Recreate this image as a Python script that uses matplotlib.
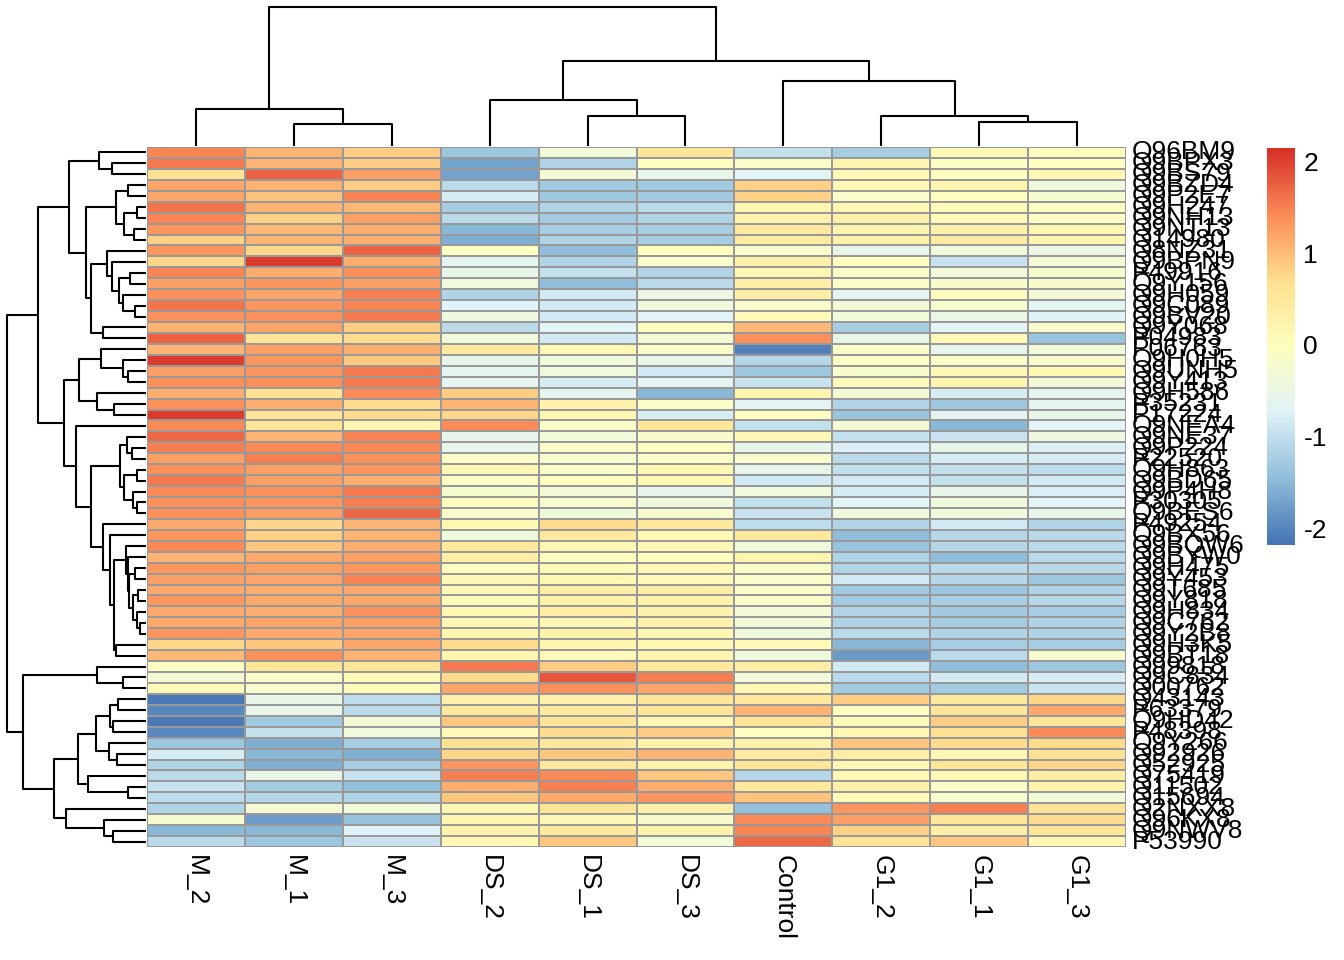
import matplotlib
matplotlib.use("Agg")
import matplotlib.pyplot as plt
import numpy as np
from matplotlib.colors import LinearSegmentedColormap

plt.rcParams['font.family'] = ['Liberation Sans', 'DejaVu Sans']

col_labels = ['M_2', 'M_1', 'M_3', 'DS_2', 'DS_1', 'DS_3', 'Control', 'G1_2', 'G1_1', 'G1_3']

row_labels = [
    'Q96BM9', 'Q9BPX3', 'Q9BS79', 'Q9BZD4', 'Q9P2E7', 'Q9H247', 'Q9NH13', 'Q9NT13',
    'Q14980', 'Q8NZ31', 'Q9BPN9', 'P49916', 'Q9Y156', 'Q9H059', 'Q9C089', 'Q9BV20',
    'Q9Y068', 'P04983', 'P06763', 'Q9H0H5', 'Q9UNH5', 'Q9Y413', 'Q9H586', 'P35231',
    'P17224', 'Q9NEA4', 'Q9NE37', 'Q9P224', 'P22520', 'Q9H863', 'Q9BD65', 'Q9P4H8',
    'P30305', 'Q9BES6', 'P49254', 'Q9BX56', 'Q9BQW6', 'Q9BYW0', 'Q9H475', 'Q9Y453',
    'Q9T685', 'Q9Y818', 'Q9H834', 'Q9C762', 'Q9Y2B8', 'Q9H3K5', 'Q9BT18', 'Q99818',
    'Q9C834', 'Q00762', 'Q43143', 'P63379', 'Q9HD42', 'P48398', 'Q9Y266', 'Q92926',
    'Q52925', 'Q75419', 'Q11502', 'Q15694', 'Q2NXX8', 'Q96KX8', 'Q9NWV8', 'P53990',
]

# z-scores per protein, columns in the order of col_labels
values = [
    [1.5, 1.1, 0.9, -1.3, -0.3, 0.6, -0.95, -1.2, 0.15, 0.05],
    [1.6, 1.1, 0.9, -1.7, -1.15, 0.05, -0.1, 0.25, -0.05, 0.0],
    [0.7, 1.75, 1.3, -1.7, -0.25, -0.55, -0.65, 0.15, 0.05, 0.2],
    [1.25, 1.1, 0.9, -1.05, -1.25, -1.25, 0.85, 0.15, 0.25, -0.35],
    [1.25, 1.0, 1.5, -0.8, -1.3, -1.25, 0.85, -0.1, 0.05, -0.2],
    [1.65, 1.1, 1.05, -1.2, -1.15, -1.05, 0.25, 0.2, 0.1, -0.05],
    [1.5, 0.85, 1.3, -1.05, -1.25, -1.15, 0.3, 0.35, 0.1, -0.05],
    [1.35, 1.05, 1.15, -1.5, -1.2, -1.2, 0.5, 0.25, 0.35, 0.2],
    [0.85, 1.1, 1.15, -1.55, -1.15, -1.2, 0.45, 0.35, 0.45, 0.25],
    [1.35, 0.8, 1.75, -0.05, -1.45, 0.05, -0.15, -0.55, -0.35, -0.45],
    [0.8, 2.05, 1.15, -0.6, -1.15, -0.15, 0.35, 0.05, -0.9, -0.25],
    [1.5, 1.15, 1.4, -0.55, -0.95, -1.15, 0.2, -0.1, -0.3, -0.2],
    [1.3, 1.35, 1.3, -0.35, -1.45, -1.05, 0.4, -0.1, -0.15, -0.15],
    [1.4, 1.25, 1.55, -1.15, -0.85, -0.45, 0.4, -0.6, 0.05, -0.25],
    [1.65, 1.35, 1.5, -0.7, -0.85, -0.35, -0.15, -0.25, -0.2, -0.6],
    [1.4, 1.4, 1.6, -0.4, -0.85, -0.65, 0.1, -0.3, -0.45, -0.7],
    [1.1, 1.25, 0.9, -1.05, -0.65, 0.0, 1.05, -1.2, -0.65, -0.15],
    [1.75, 0.65, 0.75, -0.35, -0.85, -0.25, 1.4, -0.55, 0.1, -1.35],
    [1.1, 1.3, 1.15, 0.5, 0.15, -0.1, -2.0, -0.1, -0.55, -0.3],
    [2.05, 1.35, 0.95, -0.55, -0.35, -0.55, -1.1, -0.05, -0.1, -0.15],
    [1.3, 1.35, 1.6, -0.6, -0.35, -0.85, -1.3, -0.15, 0.15, 0.2],
    [1.4, 1.4, 1.6, -0.6, -0.8, -0.6, -0.9, 0.1, 0.25, -0.25],
    [1.15, 0.7, 1.45, 0.9, -0.6, -1.5, 0.25, -0.25, -0.8, -0.6],
    [1.4, 1.15, 0.75, 1.1, 0.3, -0.1, -0.6, -1.15, -1.3, -0.6],
    [2.05, 0.65, 0.75, 0.8, 0.2, -0.8, 0.0, -1.35, -0.6, -0.55],
    [1.45, 0.65, 0.25, 1.45, -0.1, 0.6, -0.95, -0.25, -1.5, -0.65],
    [1.7, 1.1, 1.5, -0.55, -0.3, -0.15, 0.15, -0.95, -0.9, -0.4],
    [1.55, 1.45, 1.45, -0.55, -0.1, 0.0, -0.55, -0.75, -0.55, -0.75],
    [1.3, 1.55, 1.4, -0.1, -0.2, -0.1, -0.2, -1.05, -0.8, -0.8],
    [1.4, 1.3, 1.35, 0.15, -0.1, 0.15, -0.55, -0.95, -0.95, -1.0],
    [1.6, 1.3, 1.15, -0.05, 0.05, 0.15, -0.85, -0.85, -0.95, -0.85],
    [1.45, 1.4, 1.6, -0.2, -0.25, -0.55, -0.35, -0.8, -0.55, -0.75],
    [1.4, 1.35, 1.55, 0.05, -0.2, -0.35, -0.95, -0.65, -0.35, -0.65],
    [1.4, 1.3, 1.7, -0.15, -0.35, -0.2, -0.9, -0.35, -0.35, -0.55],
    [1.2, 0.8, 1.1, 0.2, 0.75, 0.55, -1.0, -1.15, -0.85, -1.15],
    [1.35, 0.85, 1.1, -0.35, 0.5, 0.15, 0.55, -1.45, -1.1, -1.05],
    [1.45, 0.95, 1.15, 0.55, 0.2, 0.15, -0.35, -1.35, -1.1, -1.05],
    [1.1, 1.2, 1.3, 0.4, 0.05, 0.05, 0.25, -1.15, -1.45, -1.05],
    [1.35, 1.3, 1.35, 0.05, 0.1, 0.15, -0.1, -1.15, -1.05, -1.05],
    [1.3, 1.25, 1.5, 0.15, 0.2, 0.1, -0.1, -0.85, -1.1, -1.3],
    [1.2, 1.15, 1.2, 0.15, 0.4, 0.4, -0.1, -1.25, -1.3, -1.15],
    [1.35, 1.2, 1.2, 0.1, 0.3, 0.3, -0.1, -1.25, -1.2, -1.1],
    [1.2, 1.15, 1.4, 0.2, 0.4, 0.3, -0.25, -1.15, -1.25, -1.2],
    [1.2, 1.25, 1.3, 0.15, 0.2, 0.35, -0.3, -1.15, -1.2, -1.15],
    [1.35, 1.2, 1.25, 0.25, 0.3, 0.2, -0.35, -1.05, -1.15, -1.15],
    [0.8, 0.95, 1.25, 0.75, 0.25, 0.2, 0.1, -1.5, -1.2, -1.2],
    [1.05, 1.4, 1.1, 0.25, 0.1, 0.25, -0.35, -1.8, -1.05, -0.2],
    [-0.05, 0.6, 0.65, 1.6, 0.9, 0.55, 0.4, -0.85, -1.45, -1.3],
    [-0.25, -0.1, 0.1, 0.75, 1.85, 1.55, -0.3, -1.05, -0.85, -0.8],
    [0.1, -0.2, 0.1, 1.25, 1.4, 1.25, 0.15, -1.25, -1.25, -0.9],
    [-2.1, -0.55, -1.0, 0.35, 0.35, 0.6, 0.55, 0.9, 0.55, 0.8],
    [-1.95, -0.55, -1.05, 0.55, 0.5, 0.6, 1.1, 0.05, 0.6, 1.2],
    [-2.1, -1.25, -0.25, 0.95, 0.6, 0.15, 0.65, 0.1, 0.9, 0.6],
    [-1.95, -0.95, -0.35, 0.1, 0.75, 0.9, 0.05, 0.2, 0.7, 1.45],
    [-1.3, -1.55, -1.2, 0.7, 0.5, 0.3, 0.3, 1.0, 0.75, 0.75],
    [-0.8, -1.5, -1.55, 0.8, 0.95, 1.1, 0.45, 0.4, 0.15, 0.7],
    [-1.15, -1.55, -1.2, 1.35, 0.55, 0.3, 0.6, 0.15, 0.6, 0.8],
    [-1.05, -0.55, -0.9, 1.55, 1.45, 0.95, -1.1, 0.15, 0.15, 0.4],
    [-0.9, -1.25, -1.4, 1.15, 1.55, 1.15, 0.55, 0.35, -0.1, 0.3],
    [-1.0, -1.1, -1.15, 0.95, 1.2, 1.35, 1.0, 0.1, -0.2, -0.3],
    [-1.15, -0.25, -0.3, 0.2, 0.65, 0.35, -1.4, 1.35, 1.55, 0.7],
    [-0.2, -1.75, -1.35, 0.25, 0.15, -0.15, 1.45, 1.3, 0.6, 0.75],
    [-1.5, -1.5, -0.7, 0.3, 0.5, 0.3, 1.5, 0.85, 0.4, 0.65],
    [-1.05, -1.3, -0.9, 0.15, 0.95, -0.3, 1.7, 0.65, 0.95, 0.2],
]

# cluster trees: (merge height, left, right), leaves are row / column indices
col_tree = (139.0,
            (36.7, 0, (22.0, 1, 2)),
            (85.0, (46.0, 3, (29.4, 4, 5)),
                   (64.7, 6, (29.4, 7, (23.7, 8, 9)))))

row_tree = (139.3,
    (108.3,
        (77.0,
            (46.7, 0, (34.0, 1, 2)),
            (60.3,
                (30.3, (18.3, 3, 4), (22.0, (9.3, 5, 6), (11.7, 7, 8))),
                (55.3,
                    (39.3, 9, (34.3, 10, (26.7, (16.0, 11, 12), (22.7, 13, (11.0, 14, 15))))),
                    (42.7, 16, 17)))),
        (81.7,
            (67.0,
                (45.0, 18, (22.7, 19, (17.7, 20, 21))),
                (49.3, 22, (31.7, 23, 24))),
            (70.0, 25,
                (55.3,
                    (26.0,
                        (19.3, 26, (14.3, 27, 28)),
                        (22.0, (9.3, 29, 30), (12.7, 31, (9.3, 32, 33)))),
                    (42.7, 34,
                        (36.0, 35,
                            (31.7,
                                (20.0, 36, (18.3, 37, (17.0, (11.0, 38, 39),
                                    (13.0, (8.0, 40, 41), (9.3, 42, (6.0, 43, 44)))))),
                                (30.0, 45, 46)))))))),
    (122.7,
        (48.7, 47, (23.3, 48, 49)),
        (91.7,
            (67.7,
                (50.0,
                    (36.0, (27.7, 50, 51), (32.7, 52, 53)),
                    (36.7, 54, (28.7, 55, 56))),
                (57.7, 57, (17.7, 58, 59))),
            (80.0, 60, (41.7, 61, (32.7, 62, 63))))))

legend_ticks = [-2, -1, 0, 1, 2]
vmin, vmax = -2.15, 2.17

W, H = 1344, 960


def px_axes(fig, x0, y0, x1, y1):
    return fig.add_axes([x0 / W, 1 - y1 / H, (x1 - x0) / W, (y1 - y0) / H])


def draw_tree(ax, node, side):
    if isinstance(node, int):
        return node + 0.5, 0.0
    h, left, right = node
    p1, h1 = draw_tree(ax, left, side)
    p2, h2 = draw_tree(ax, right, side)
    if side == 'top':
        ax.plot([p1, p1, p2, p2], [h1, h, h, h2], color='black', lw=1.5,
                clip_on=False, solid_capstyle='butt')
    else:
        ax.plot([h1, h, h, h2], [p1, p1, p2, p2], color='black', lw=1.5,
                clip_on=False, solid_capstyle='butt')
    return (p1 + p2) / 2, h


cmap = LinearSegmentedColormap.from_list(
    'pheat', ['#4575B4', '#91BFDB', '#E0F3F8', '#FFFFBF', '#FEE090', '#FC8D59', '#D73027'], N=100)

data = np.array(values)
n_rows, n_cols = data.shape

fig = plt.figure(figsize=(W / 100, H / 100), dpi=100)

hx0, hx1, hy0, hy1 = 147, 1126, 147, 847
ax = px_axes(fig, hx0, hy0, hx1, hy1)
ax.pcolormesh(np.arange(n_cols + 1), np.arange(n_rows + 1), data, cmap=cmap,
              vmin=vmin, vmax=vmax, edgecolors='#999999', linewidth=1.1)
ax.set_xlim(0, n_cols)
ax.set_ylim(n_rows, 0)
ax.axis('off')

for i, lab in enumerate(row_labels):
    ax.text(n_cols + 0.06, i + 0.5, lab, ha='left', va='center', fontsize=19, clip_on=False)
for j, lab in enumerate(col_labels):
    ax.text(j + 0.5, n_rows + 0.75, lab, ha='center', va='top', rotation=270,
            fontsize=19, clip_on=False)

axc = px_axes(fig, hx0, 6.7, hx1, 145.7)
draw_tree(axc, col_tree, 'top')
axc.set_xlim(0, n_cols)
axc.set_ylim(0, col_tree[0])
axc.axis('off')

axr = px_axes(fig, 6.7, hy0, 146, hy1)
draw_tree(axr, row_tree, 'left')
axr.set_xlim(row_tree[0], 0)
axr.set_ylim(n_rows, 0)
axr.axis('off')

axl = px_axes(fig, 1267, 148, 1295, 545)
grad = np.linspace(vmin, vmax, 200).reshape(-1, 1)
axl.imshow(grad, cmap=cmap, vmin=vmin, vmax=vmax, aspect='auto', origin='lower',
           extent=[0, 1, vmin, vmax])
axl.set_xlim(0, 1)
axl.set_ylim(vmin, vmax)
axl.axis('off')
for t in legend_ticks:
    axl.text(1.3, t, str(t), ha='left', va='center', fontsize=19)

fig.savefig('out.png', dpi=100)
